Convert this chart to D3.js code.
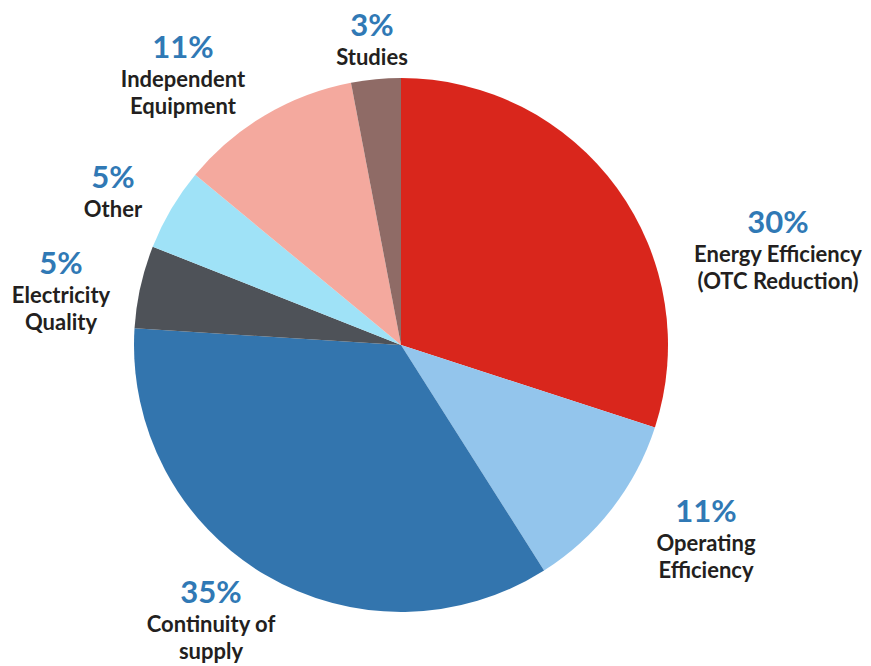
<!DOCTYPE html>
<html>
<head>
<meta charset="utf-8">
<script src="https://cdn.jsdelivr.net/npm/d3@7"></script>
<style>
  html, body { margin: 0; padding: 0; background: #ffffff; }
  svg { display: block; }
  .pct { font-family: Lato, "Open Sans", sans-serif; font-weight: 700; fill: #3079b5; }
  .lbl { font-family: Lato, "Open Sans", sans-serif; font-weight: 700; fill: #231f20; }
</style>
</head>
<body>
<svg id="chart" width="871" height="666"></svg>
<script>
// Budget share by category, clockwise from 12 o'clock
const categories = ["Energy Efficiency", "Operating Efficiency", "Continuity of supply",
                    "Electricity Quality", "Other", "Independent Equipment", "Studies"];
const shares = [30, 11, 35, 5, 5, 11, 3];
const labelLines = [
  ["Energy Efficiency", "(OTC Reduction)"],
  ["Operating", "Efficiency"],
  ["Continuity of", "supply"],
  ["Electricity", "Quality"],
  ["Other"],
  ["Independent", "Equipment"],
  ["Studies"]
];
const colors = ["#d9261c", "#93c5ec", "#3375ae", "#4e5258", "#9fe2f7", "#f4a99e", "#8f6b66"];

// Label block anchors (centre x, baseline of the percentage line)
const labelAnchors = [
  [778, 233], [706, 522], [211, 603], [61, 274], [113, 188], [183, 58], [372, 36]
];

const width = 871, height = 666;
const cx = 401, cy = 345, radius = 267;

const svg = d3.select("#chart");
const g = svg.append("g").attr("transform", `translate(${cx},${cy})`);

const pie = d3.pie().sort(null).value(d => d);
const arc = d3.arc().innerRadius(0).outerRadius(radius);

g.selectAll("path")
  .data(pie(shares))
  .join("path")
  .attr("d", arc)
  .attr("fill", (d, i) => colors[i]);

const labels = svg.append("g")
  .selectAll("g")
  .data(categories)
  .join("g")
  .attr("transform", (d, i) => `translate(${labelAnchors[i][0]},${labelAnchors[i][1]})`);

labels.append("text")
  .attr("class", "pct")
  .attr("text-anchor", "middle")
  .attr("font-size", 31)
  .text((d, i) => shares[i] + "%");

labels.each(function(d, i) {
  const sel = d3.select(this);
  labelLines[i].forEach((line, k) => {
    sel.append("text")
      .attr("class", "lbl")
      .attr("text-anchor", "middle")
      .attr("font-size", 22)
      .attr("y", 29 + k * 27)
      .text(line);
  });
});
</script>
</body>
</html>
